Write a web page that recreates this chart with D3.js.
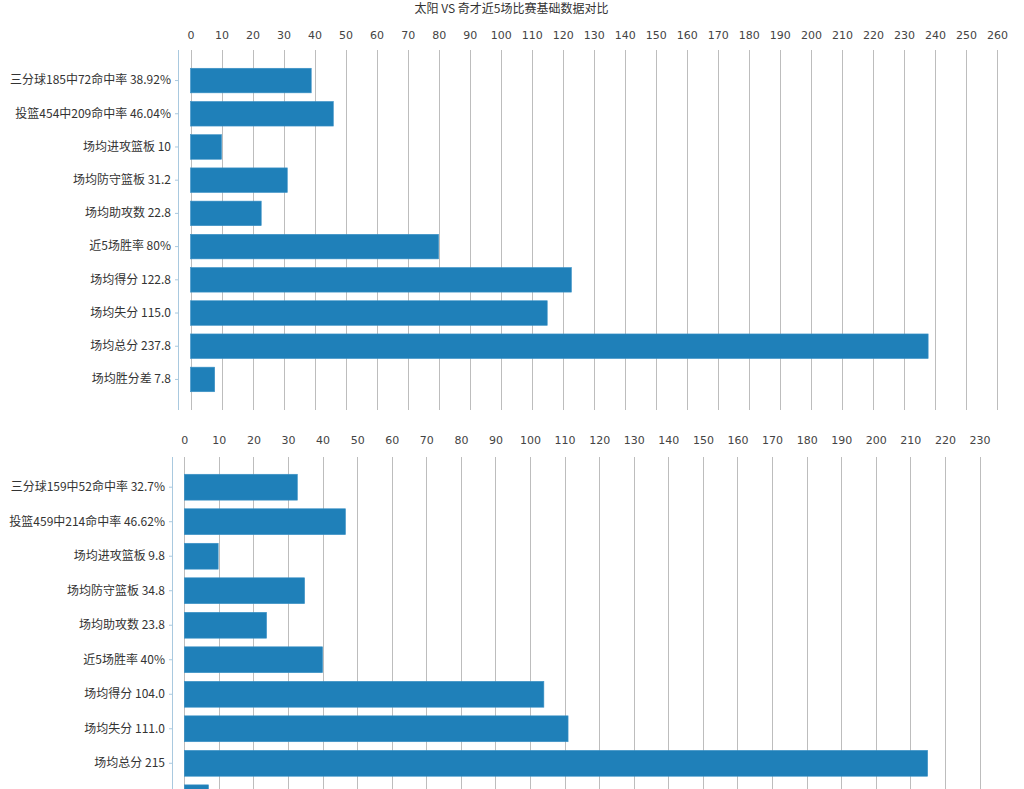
<!DOCTYPE html>
<html><head><meta charset="utf-8">
<script src="https://cdn.jsdelivr.net/npm/d3@7"></script>
<style>
body{margin:0;background:#fff;}
text{font-family:"Noto Sans CJK SC","Noto Sans",sans-serif;}
</style></head>
<body>
<svg id="c" width="1024" height="789"></svg>
<script>
const title = "太阳 VS 奇才近5场比赛基础数据对比";

const categoriesTop = ["三分球185中72命中率 38.92%","投篮454中209命中率 46.04%","场均进攻篮板 10","场均防守篮板 31.2","场均助攻数 22.8","近5场胜率 80%","场均得分 122.8","场均失分 115.0","场均总分 237.8","场均胜分差 7.8"];
const valuesTop = [38.92, 46.04, 10, 31.2, 22.8, 80, 122.8, 115.0, 237.8, 7.8];
const ticksTop = [0,10,20,30,40,50,60,70,80,90,100,110,120,130,140,150,160,170,180,190,200,210,220,230,240,250,260];

const categoriesBottom = ["三分球159中52命中率 32.7%","投篮459中214命中率 46.62%","场均进攻篮板 9.8","场均防守篮板 34.8","场均助攻数 23.8","近5场胜率 40%","场均得分 104.0","场均失分 111.0","场均总分 215","场均胜分差 -7.0"];
const valuesBottom = [32.7, 46.62, 9.8, 34.8, 23.8, 40, 104.0, 111.0, 215, 7];
const ticksBottom = [0,10,20,30,40,50,60,70,80,90,100,110,120,130,140,150,160,170,180,190,200,210,220,230];

const svg = d3.select("#c");
svg.append("text").attr("x",511.5).attr("y",12.5).attr("text-anchor","middle")
  .attr("font-size",12).attr("fill","#333").text(title);

function drawPanel(cats, vals, ticks, o){
  const g = svg.append("g");
  const x = d3.scaleLinear().domain([0, ticks[ticks.length-1]]).range([o.x0, o.x1]);
  const y = d3.scaleBand().domain(cats).range([o.y0, o.y1]).paddingInner(o.pi).paddingOuter(o.po);

  // gridlines
  g.append("g").selectAll("line").data(ticks).join("line")
    .attr("x1", d=>Math.round(x(d))+0.5).attr("x2", d=>Math.round(x(d))+0.5)
    .attr("y1", o.y0).attr("y2", o.gridEnd)
    .attr("stroke","#bdbdbd").attr("stroke-width",1);

  // top axis labels
  const ax = g.append("g").attr("transform",`translate(0,${o.labelY})`)
    .call(d3.axisTop(x).tickValues(ticks).tickSize(0).tickPadding(0).tickFormat(d3.format("d")));
  ax.select(".domain").remove();
  ax.selectAll("text").attr("font-size",11).attr("fill","#444")
    .style("font-family","'DejaVu Sans',sans-serif");

  // bars
  g.append("g").selectAll("rect").data(vals).join("rect")
    .attr("x", x(0)).attr("y", (d,i)=>y(cats[i]))
    .attr("width", d=>x(d)-x(0)).attr("height", y.bandwidth())
    .attr("fill","#1f80b9").attr("stroke","#3d92c6").attr("stroke-width",0.6);

  // left axis
  const ya = g.append("g").attr("transform",`translate(${o.axisX},0)`)
    .call(d3.axisLeft(y).tickSize(3).tickSizeOuter(0).tickPadding(4));
  ya.select(".domain").attr("stroke","#a9c9df").attr("d",`M0.5,${o.y0}V${o.gridEnd}`);
  ya.selectAll(".tick line").attr("stroke","#a9c9df");
  ya.selectAll("text").attr("font-size",12).attr("fill","#333")
    .style("font-family","'Noto Sans CJK SC',sans-serif");
}

drawPanel(categoriesTop, valuesTop, ticksTop,
  {x0:190.5, x1:997, y0:50, y1:410, gridEnd:410, pi:0.26, po:0.55, labelY:38.5, axisX:178});
drawPanel(categoriesBottom, valuesBottom, ticksBottom,
  {x0:184.3, x1:979.5, y0:457, y1:828, gridEnd:830, pi:0.25, po:0.5, labelY:443.5, axisX:172});
</script>
</body></html>
